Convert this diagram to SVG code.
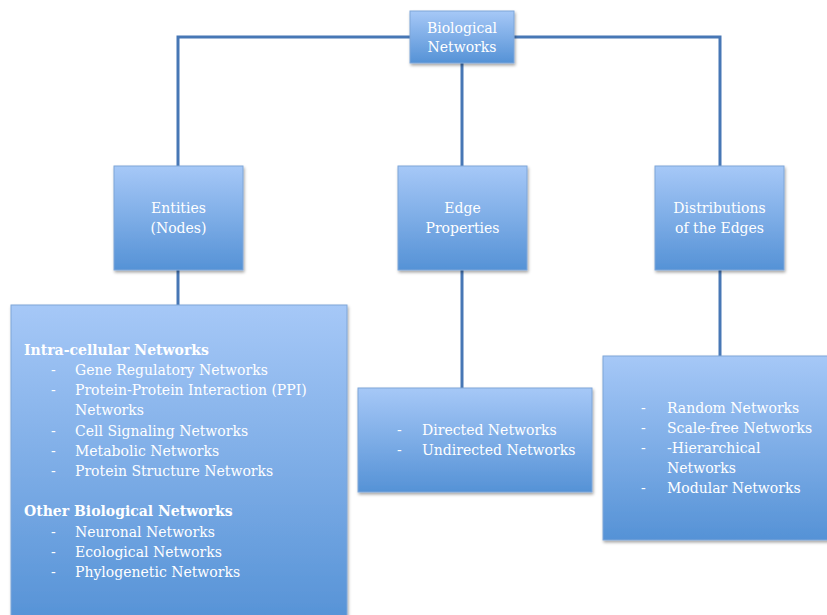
<svg xmlns="http://www.w3.org/2000/svg" width="827" height="615" viewBox="0 0 827 615">
<defs>
<linearGradient id="g" x1="0" y1="0" x2="0" y2="1">
<stop offset="0" stop-color="#a6c8f7"/>
<stop offset="1" stop-color="#5592d6"/>
</linearGradient>
<filter id="sh" x="-10%" y="-10%" width="120%" height="120%">
<feDropShadow dx="1" dy="2" stdDeviation="1.5" flood-color="#000" flood-opacity="0.35"/>
</filter>
</defs>
<style>
.box{fill:url(#g);stroke:#7fa6d8;stroke-width:1;filter:url(#sh)}
.t{font-family:"DejaVu Serif","Liberation Serif",serif;font-size:14px;fill:#fff}
.c{text-anchor:middle}
.b{font-weight:bold}
.ln{stroke:#4777b5;stroke-width:3;fill:none}
</style>
<rect width="827" height="615" fill="#fff"/>
<g id="connectors">
<polyline class="ln" points="178,166 178,37 720,37 720,166"/>
<line class="ln" x1="462" y1="63" x2="462" y2="166"/>
<line class="ln" x1="178" y1="270" x2="178" y2="305"/>
<line class="ln" x1="462" y1="270" x2="462" y2="388"/>
<line class="ln" x1="720" y1="270" x2="720" y2="356"/>
</g>
<g id="biological-networks">
<rect class="box" x="410" y="11" width="104" height="52"/>
<text class="t c" x="462" y="33">Biological</text>
<text class="t c" x="462" y="52">Networks</text>
</g>
<g id="entities">
<rect class="box" x="114" y="166" width="129" height="104"/>
<text class="t c" x="178.5" y="213">Entities</text>
<text class="t c" x="178.5" y="233">(Nodes)</text>
</g>
<g id="edge-properties">
<rect class="box" x="398" y="166" width="129" height="104"/>
<text class="t c" x="462.5" y="213">Edge</text>
<text class="t c" x="462.5" y="233">Properties</text>
</g>
<g id="distributions">
<rect class="box" x="655" y="166" width="129" height="104"/>
<text class="t c" x="719.5" y="213">Distributions</text>
<text class="t c" x="719.5" y="233">of the Edges</text>
</g>
<g id="entities-list">
<rect class="box" x="11" y="305" width="336" height="320"/>
<text class="t b" x="24" y="355">Intra-cellular Networks</text>
<text class="t" x="51" y="375">-</text><text class="t" x="75" y="375">Gene Regulatory Networks</text>
<text class="t" x="51" y="395">-</text><text class="t" x="75" y="395">Protein-Protein Interaction (PPI)</text>
<text class="t" x="75" y="415">Networks</text>
<text class="t" x="51" y="436">-</text><text class="t" x="75" y="436">Cell Signaling Networks</text>
<text class="t" x="51" y="456">-</text><text class="t" x="75" y="456">Metabolic Networks</text>
<text class="t" x="51" y="476">-</text><text class="t" x="75" y="476">Protein Structure Networks</text>
<text class="t b" x="24" y="516">Other Biological Networks</text>
<text class="t" x="51" y="537">-</text><text class="t" x="75" y="537">Neuronal Networks</text>
<text class="t" x="51" y="557">-</text><text class="t" x="75" y="557">Ecological Networks</text>
<text class="t" x="51" y="577">-</text><text class="t" x="75" y="577">Phylogenetic Networks</text>
</g>
<g id="edge-list">
<rect class="box" x="358" y="388" width="234" height="104"/>
<text class="t" x="397" y="435">-</text><text class="t" x="422" y="435">Directed Networks</text>
<text class="t" x="397" y="455">-</text><text class="t" x="422" y="455">Undirected Networks</text>
</g>
<g id="distribution-list">
<rect class="box" x="603" y="356" width="234" height="184"/>
<text class="t" x="641" y="413">-</text><text class="t" x="667" y="413">Random Networks</text>
<text class="t" x="641" y="433">-</text><text class="t" x="667" y="433">Scale-free Networks</text>
<text class="t" x="641" y="453">-</text><text class="t" x="667" y="453">-Hierarchical</text>
<text class="t" x="667" y="473">Networks</text>
<text class="t" x="641" y="493">-</text><text class="t" x="667" y="493">Modular Networks</text>
</g>
</svg>
